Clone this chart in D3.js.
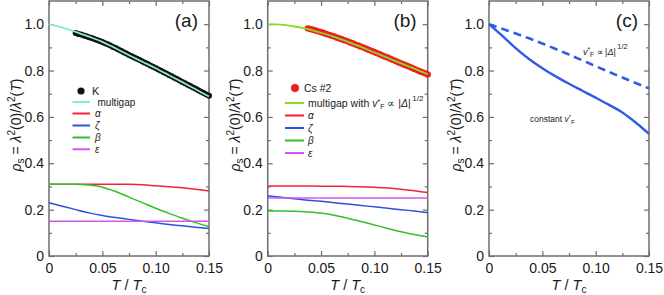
<!DOCTYPE html>
<html><head><meta charset="utf-8">
<script src="https://cdn.jsdelivr.net/npm/d3@7"></script>
<style>
body{margin:0;background:#fff;}
svg{display:block;font-family:"Liberation Sans",Arial,Helvetica,sans-serif;}
</style></head>
<body><svg id="chart" width="664" height="295"></svg>
<script>
// ---------- data ----------
const tGrid = [0, 0.0125, 0.025, 0.0375, 0.05, 0.0625, 0.075, 0.0875, 0.1, 0.1125, 0.125, 0.1375, 0.15];

// panel (a)
const multigapA = [1.0, 0.985, 0.967, 0.946, 0.924, 0.896, 0.866, 0.838, 0.81, 0.78, 0.75, 0.719, 0.688];
const alphaA = [0.31, 0.31, 0.31, 0.31, 0.31, 0.31, 0.309, 0.307, 0.303, 0.299, 0.294, 0.288, 0.281];
const zetaA  = [0.23, 0.215, 0.2, 0.186, 0.175, 0.166, 0.158, 0.15, 0.143, 0.136, 0.13, 0.124, 0.119];
const betaA  = [0.31, 0.31, 0.31, 0.306, 0.297, 0.278, 0.254, 0.23, 0.206, 0.184, 0.163, 0.144, 0.127];
const epsA   = [0.15, 0.15, 0.15, 0.15, 0.15, 0.15, 0.15, 0.15, 0.15, 0.15, 0.15, 0.15, 0.15];
const kT = [0.025,0.0275,0.03,0.0325,0.035,0.0375,0.04,0.0425,0.045,0.0475,0.05,0.0525,0.055,0.0575,0.06,0.0625,0.065,0.0675,0.07,0.0725,0.075,0.0775,0.08,0.0825,0.085,0.0875,0.09,0.0925,0.095,0.0975,0.1,0.1025,0.105,0.1075,0.11,0.1125,0.115,0.1175,0.12,0.1225,0.125,0.1275,0.13,0.1325,0.135,0.1375,0.14,0.1425,0.145,0.1475,0.15];
const kRho = [0.962,0.958,0.955,0.951,0.948,0.944,0.94,0.936,0.932,0.927,0.923,0.918,0.913,0.908,0.902,0.897,0.891,0.885,0.879,0.873,0.867,0.862,0.856,0.851,0.845,0.839,0.834,0.828,0.822,0.816,0.811,0.805,0.799,0.793,0.787,0.781,0.775,0.769,0.763,0.757,0.751,0.745,0.739,0.733,0.727,0.721,0.715,0.709,0.703,0.697,0.691];

// panel (b)
const multigapB = [1.0, 0.998, 0.99, 0.979, 0.963, 0.945, 0.924, 0.902, 0.878, 0.855, 0.831, 0.808, 0.784];
const alphaB = [0.302, 0.302, 0.302, 0.302, 0.301, 0.301, 0.3, 0.299, 0.297, 0.293, 0.288, 0.281, 0.274];
const zetaB  = [0.26, 0.253, 0.247, 0.241, 0.236, 0.23, 0.224, 0.218, 0.212, 0.206, 0.2, 0.194, 0.187];
const betaB  = [0.194, 0.194, 0.193, 0.19, 0.185, 0.176, 0.163, 0.149, 0.134, 0.119, 0.105, 0.093, 0.082];
const epsB   = [0.25, 0.25, 0.25, 0.25, 0.25, 0.25, 0.25, 0.25, 0.25, 0.25, 0.25, 0.25, 0.25];
const csT = [0.0375,0.04,0.0425,0.045,0.0475,0.05,0.0525,0.055,0.0575,0.06,0.0625,0.065,0.0675,0.07,0.0725,0.075,0.0775,0.08,0.0825,0.085,0.0875,0.09,0.0925,0.095,0.0975,0.1,0.1025,0.105,0.1075,0.11,0.1125,0.115,0.1175,0.12,0.1225,0.125,0.1275,0.13,0.1325,0.135,0.1375,0.14,0.1425,0.145,0.1475,0.15];
const csRho = [0.982,0.979,0.976,0.973,0.969,0.966,0.962,0.958,0.954,0.95,0.947,0.942,0.938,0.934,0.93,0.926,0.921,0.917,0.912,0.908,0.903,0.899,0.894,0.889,0.884,0.88,0.875,0.87,0.865,0.86,0.856,0.851,0.846,0.841,0.836,0.831,0.826,0.822,0.817,0.812,0.807,0.802,0.797,0.793,0.788,0.783];

// panel (c)
const dashedC = [1.0, 0.98, 0.96, 0.939, 0.917, 0.893, 0.869, 0.844, 0.819, 0.794, 0.77, 0.746, 0.723];
const solidC  = [1.0, 0.95, 0.897, 0.85, 0.81, 0.775, 0.743, 0.713, 0.683, 0.652, 0.619, 0.576, 0.527];

// ticks
const xMajor = [0, 0.05, 0.1, 0.15];
const xMajorLabels = ["0", "0.05", "0.10", "0.15"];
const xMinor = [0.025, 0.075, 0.125];
const yMajor = [0, 0.2, 0.4, 0.6, 0.8, 1.0];
const yMajorLabels = ["0", "0.2", "0.4", "0.6", "0.8", "1.0"];
const yMinor = [0.1, 0.3, 0.5, 0.7, 0.9];

// ---------- drawing ----------
const svg = d3.select("#chart");
const TOP = 1, BOT = 256, W = 160;
const frameColor = "#6e6e6e";
const textColor = "#1a1a1a";

function makePanel(left, label) {
  const x = d3.scaleLinear().domain([0, 0.15]).range([left, left + W]);
  const y = d3.scaleLinear().domain([0, 1.1]).range([BOT, TOP]);
  const g = svg.append("g");

  function styleAxis(sel) {
    sel.select(".domain").remove();
    sel.selectAll("line").attr("stroke", frameColor).attr("stroke-width", 1.2);
    sel.selectAll("text").attr("fill", textColor).attr("font-size", 14);
  }
  g.append("g").attr("transform", `translate(0,${BOT})`)
    .call(d3.axisBottom(x).tickValues(xMajor).tickSize(-5).tickPadding(7).tickFormat((d, i) => xMajorLabels[i]))
    .call(styleAxis);
  g.append("g").attr("transform", `translate(0,${BOT})`)
    .call(d3.axisBottom(x).tickValues(xMinor).tickSize(-3).tickFormat(""))
    .call(styleAxis);
  g.append("g").attr("transform", `translate(0,${TOP})`)
    .call(d3.axisTop(x).tickValues(xMajor).tickSize(-5).tickFormat(""))
    .call(styleAxis);
  g.append("g").attr("transform", `translate(0,${TOP})`)
    .call(d3.axisTop(x).tickValues(xMinor).tickSize(-3).tickFormat(""))
    .call(styleAxis);
  g.append("g").attr("transform", `translate(${left},0)`)
    .call(d3.axisLeft(y).tickValues(yMajor).tickSize(-5).tickPadding(5).tickFormat((d, i) => yMajorLabels[i]))
    .call(styleAxis);
  g.append("g").attr("transform", `translate(${left},0)`)
    .call(d3.axisLeft(y).tickValues(yMinor).tickSize(-3).tickFormat(""))
    .call(styleAxis);
  g.append("g").attr("transform", `translate(${left + W},0)`)
    .call(d3.axisRight(y).tickValues(yMajor).tickSize(-5).tickFormat(""))
    .call(styleAxis);
  g.append("g").attr("transform", `translate(${left + W},0)`)
    .call(d3.axisRight(y).tickValues(yMinor).tickSize(-3).tickFormat(""))
    .call(styleAxis);

  g.append("rect").attr("x", left).attr("y", TOP).attr("width", W).attr("height", BOT - TOP)
    .attr("fill", "none").attr("stroke", frameColor).attr("stroke-width", 1.5);

  g.append("text").attr("x", left + W - 11).attr("y", 27).attr("text-anchor", "end")
    .attr("font-size", 19).attr("fill", textColor).text(label);

  const yt = g.append("text").attr("transform", `translate(${left - 28},125) rotate(-90)`)
    .attr("text-anchor", "middle").attr("font-size", 14).attr("fill", textColor);
  yt.append("tspan").attr("font-style", "italic").text("ρ");
  yt.append("tspan").attr("font-size", 10).attr("dy", 3).text("s");
  yt.append("tspan").attr("dy", -3).text(" = ");
  yt.append("tspan").attr("font-style", "italic").text("λ");
  yt.append("tspan").attr("font-size", 10).attr("dy", -6).text("2");
  yt.append("tspan").attr("dy", 6).text("(0)/");
  yt.append("tspan").attr("font-style", "italic").text("λ");
  yt.append("tspan").attr("font-size", 10).attr("dy", -6).text("2");
  yt.append("tspan").attr("dy", 6).text("(");
  yt.append("tspan").attr("font-style", "italic").text("T");
  yt.append("tspan").text(")");

  const xt = g.append("text").attr("x", left + W / 2).attr("y", 290).attr("text-anchor", "middle")
    .attr("font-size", 14.5).attr("fill", textColor);
  xt.append("tspan").attr("font-style", "italic").text("T");
  xt.append("tspan").text(" / ");
  xt.append("tspan").attr("font-style", "italic").text("T");
  xt.append("tspan").attr("font-size", 10).attr("dy", 3).text("c");

  return { g, x, y };
}

function curve(p, ys, color, width, dash) {
  const line = d3.line().x((d, i) => p.x(tGrid[i])).y(d => p.y(d)).curve(d3.curveMonotoneX);
  const path = p.g.append("path").datum(ys).attr("d", line).attr("fill", "none")
    .attr("stroke", color).attr("stroke-width", width).attr("stroke-linecap", "butt");
  if (dash) path.attr("stroke-dasharray", dash);
}
function points(p, ts, vs, color, r) {
  p.g.append("g").selectAll("circle").data(vs).join("circle")
    .attr("cx", (d, i) => p.x(ts[i])).attr("cy", d => p.y(d)).attr("r", r).attr("fill", color);
}
function legendLine(p, x1, x2, yy, color, width) {
  p.g.append("line").attr("x1", x1).attr("x2", x2).attr("y1", yy).attr("y2", yy)
    .attr("stroke", color).attr("stroke-width", width);
}
function legendText(p, xx, yy, txt, italic, size) {
  const t = p.g.append("text").attr("x", xx).attr("y", yy + 3.5).attr("font-size", size || 10).attr("fill", textColor).text(txt);
  if (italic) t.attr("font-style", "italic");
  return t;
}
function vfText(t, small, sup) {
  t.append("tspan").attr("font-style", "italic").text("v");
  t.append("tspan").attr("font-size", small).attr("dy", -3).text("*");
  t.append("tspan").attr("font-size", small).attr("dy", 5).text("F");
  if (sup) {
    t.append("tspan").attr("dy", -2).text(" ∝ ");
    t.append("tspan").text("|");
    t.append("tspan").attr("font-style", "italic").text("Δ");
    t.append("tspan").text("|");
    t.append("tspan").attr("font-size", small + 1).attr("dy", -6).attr("dx", 1.5).text("1/2");
  }
}

const cMultiA = "#86ead2", cAlpha = "#f4233a", cZeta = "#2a52e0", cBeta = "#33c02a", cEps = "#d158ee";
const cMultiB = "#86dc2a", cCs = "#f21d1d", cBlue = "#2f5ce6";

// ----- panel a -----
const pa = makePanel(49, "(a)");
curve(pa, alphaA, cAlpha, 1.5);
curve(pa, zetaA, cZeta, 1.5);
curve(pa, betaA, cBeta, 1.5);
curve(pa, epsA, cEps, 1.5);
points(pa, kT, kRho, "#111", 3);
curve(pa, multigapA, cMultiA, 1.8);
pa.g.append("circle").attr("cx", 81).attr("cy", 91).attr("r", 3.6).attr("fill", "#111");
legendText(pa, 92, 91, "K", false, 11);
legendLine(pa, 72.5, 90, 102, cMultiA, 2);
legendText(pa, 97.5, 102, "multigap");
legendLine(pa, 72.5, 90, 113.5, cAlpha, 2);
legendText(pa, 95, 113.5, "α", true);
legendLine(pa, 72.5, 90, 125.5, cZeta, 2);
legendText(pa, 95, 125.5, "ζ", true);
legendLine(pa, 72.5, 90, 137.5, cBeta, 2);
legendText(pa, 95, 137.5, "β", true);
legendLine(pa, 72.5, 90, 149.3, cEps, 2);
legendText(pa, 95, 149.3, "ε", true);

// ----- panel b -----
const pb = makePanel(267.7, "(b)");
curve(pb, alphaB, cAlpha, 1.5);
curve(pb, zetaB, cZeta, 1.5);
curve(pb, betaB, cBeta, 1.5);
curve(pb, epsB, cEps, 1.5);
points(pb, csT, csRho, cCs, 3.2);
curve(pb, multigapB, cMultiB, 1.8);
pb.g.append("circle").attr("cx", 295).attr("cy", 88).attr("r", 4).attr("fill", cCs);
legendText(pb, 304, 88, "Cs #2", false, 10.5);
legendLine(pb, 285, 304, 103, cMultiB, 2);
const mt = legendText(pb, 308, 103, "multigap with ", false, 10.5);
vfText(mt, 7, true);
legendLine(pb, 285, 304, 115.5, cAlpha, 2);
legendText(pb, 308, 115.5, "α", true);
legendLine(pb, 285, 304, 128, cZeta, 2);
legendText(pb, 308, 128, "ζ", true);
legendLine(pb, 285, 304, 140.5, cBeta, 2);
legendText(pb, 308, 140.5, "β", true);
legendLine(pb, 285, 304, 153, cEps, 2);
legendText(pb, 308, 153, "ε", true);

// ----- panel c -----
const pc = makePanel(489, "(c)");
curve(pc, dashedC, cBlue, 2.6, "8,5");
curve(pc, solidC, cBlue, 2.4);
const t1 = pc.g.append("text").attr("x", 583).attr("y", 55).attr("font-size", 9).attr("fill", textColor);
vfText(t1, 6.5, true);
const t2 = pc.g.append("text").attr("x", 530).attr("y", 122).attr("font-size", 8.5).attr("fill", textColor);
t2.append("tspan").text("constant ");
vfText(t2, 6, false);
</script></body></html>
